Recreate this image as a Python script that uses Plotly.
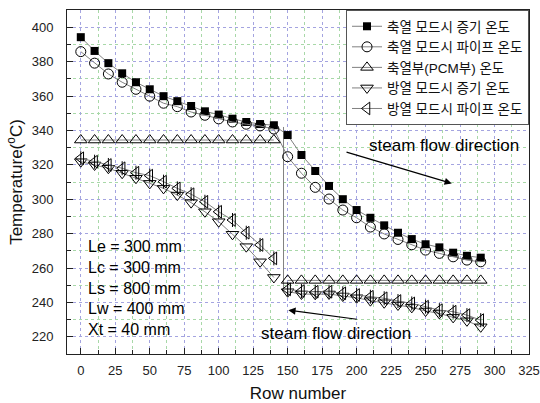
import plotly.graph_objects as go

# ---- data ----
row_number = [0, 10, 20, 30, 40, 50, 60, 70, 80, 90, 100, 110, 120, 130, 140,
              150, 160, 170, 180, 190, 200, 210, 220, 230, 240, 250, 260, 270, 280, 290]

charge_steam = [394.2, 386.2, 379.1, 373.2, 368.0, 363.9, 359.9, 357.0, 354.2, 351.1,
                349.2, 346.8, 344.9, 343.7, 343.0,
                337.3, 325.7, 316.4, 307.7, 300.0, 293.7, 289.2, 284.8, 280.5, 276.8,
                273.8, 272.0, 268.9, 267.1, 266.0]

charge_pipe = [385.8, 379.1, 372.8, 368.0, 363.9, 359.9, 355.8, 353.8, 350.7, 348.8,
               346.7, 344.9, 343.6, 342.6, 340.8,
               324.7, 315.1, 306.9, 300.1, 293.7, 289.2, 283.8, 279.8, 276.6, 273.5,
               270.4, 268.5, 266.5, 264.6, 263.6]

pcm_temp = [334.4] * 15 + [252.8] * 15

discharge_steam = [321.8, 319.9, 318.0, 315.1, 312.2, 309.2, 306.3, 302.4, 298.0, 292.7,
                   286.9, 279.6, 272.4, 263.6, 254.5,
                   246.2, 244.9, 244.7, 244.9, 243.7, 242.7, 241.0, 239.8, 238.5, 237.1,
                   235.0, 233.6, 231.3, 229.3, 225.8]

discharge_pipe = [323.8, 321.8, 319.9, 318.0, 315.4, 313.7, 310.2, 306.3, 302.9, 298.5,
                  292.7, 287.9, 280.5, 273.4, 265.6,
                  247.6, 246.6, 246.2, 246.2, 245.3, 244.3, 243.3, 242.4, 240.8, 239.4,
                  237.5, 235.5, 234.6, 232.6, 229.7]

# the two sections (rows 0-140 and 150-290) of the split-drawn series
section_a = slice(0, 15)
section_b = slice(15, 30)

divider_x = [147, 147]
divider_y = [342, 248]

series_names = ["축열 모드시 증기 온도", "축열 모드시 파이프 온도", "축열부(PCM부) 온도",
                "방열 모드시 증기 온도", "방열 모드시 파이프 온도"]

param_lines = ["Le = 300 mm", "Lc = 300 mm", "Ls = 800 mm", "Lw = 400 mm", "Xt = 40 mm"]

x_ticks = list(range(0, 326, 25))
y_ticks = list(range(220, 401, 20))

LINE = dict(color="#808080", width=1)
FONT = "Liberation Sans, Arial, sans-serif"

fig = go.Figure()

fig.add_trace(go.Scatter(x=divider_x, y=divider_y, mode="lines", line=LINE,
                         showlegend=False, hoverinfo="skip"))

fig.add_trace(go.Scatter(x=row_number, y=charge_steam, mode="lines+markers", name=series_names[0],
                         line=LINE, marker=dict(symbol="square", size=8, color="black")))
fig.add_trace(go.Scatter(x=row_number, y=charge_pipe, mode="lines+markers", name=series_names[1],
                         line=LINE, marker=dict(symbol="circle-open", size=10, color="black",
                                                line=dict(width=1))))


def split_series(y, name, symbol, group):
    for k, sec in enumerate([section_a, section_b]):
        fig.add_trace(go.Scatter(x=row_number[sec], y=y[sec], mode="lines+markers", name=name,
                                 legendgroup=group, showlegend=(k == 0),
                                 line=LINE, marker=dict(symbol=symbol, size=11, color="black",
                                                        line=dict(width=1))))


split_series(pcm_temp, series_names[2], "triangle-up-open", "pcm")
split_series(discharge_steam, series_names[3], "triangle-down-open", "ds")
split_series(discharge_pipe, series_names[4], "triangle-left-open", "dp")
fig.add_trace(go.Scatter(x=row_number, y=discharge_pipe, mode="markers", legendgroup="dp",
                         showlegend=False, hoverinfo="skip",
                         marker=dict(symbol="line-ns-open", size=10, color="black",
                                     line=dict(width=1))))

# annotations
fig.add_annotation(x=263, y=331.5, text="steam flow direction", showarrow=False,
                   font=dict(size=17, color="black", family=FONT))
fig.add_annotation(x=269, y=309.2, ax=191.6, ay=327.6, xref="x", yref="y", axref="x", ayref="y",
                   text="", showarrow=True, arrowhead=2, arrowsize=1.2, arrowwidth=1.2,
                   arrowcolor="black")
fig.add_annotation(x=185, y=222, text="steam flow direction", showarrow=False,
                   font=dict(size=17, color="black", family=FONT))
fig.add_annotation(x=150.5, y=235.5, ax=201.2, ay=230.1, xref="x", yref="y", axref="x", ayref="y",
                   text="", showarrow=True, arrowhead=2, arrowsize=1.2, arrowwidth=1.2,
                   arrowcolor="black")
fig.add_annotation(x=3.5, y=278.5, xanchor="left", yanchor="top", align="left",
                   text="<br>".join(param_lines), showarrow=False,
                   font=dict(size=16, color="black", family=FONT))

grid_major = "#a4a4e0"
grid_minor = "#a8d8a8"

fig.update_xaxes(range=[-10, 325], tickvals=x_ticks, ticks="inside", ticklen=6, tickcolor="#222",
                 showline=True, linecolor="#222", linewidth=1, mirror=True, automargin=False,
                 showgrid=True, gridcolor=grid_major, griddash="dot", gridwidth=1,
                 minor=dict(dtick=12.5, tick0=0, ticks="inside", ticklen=4, tickcolor="#222",
                            showgrid=True, gridcolor=grid_minor, griddash="dot", gridwidth=1),
                 zeroline=False, tickfont=dict(size=13, color="#222", family=FONT),
                 ticklabelstandoff=4,
                 title=dict(text="Row number", font=dict(size=17, color="#111", family=FONT),
                            standoff=14))
fig.update_yaxes(range=[210, 410], tickvals=y_ticks, ticks="inside", ticklen=6, tickcolor="#222",
                 showline=True, linecolor="#222", linewidth=1, mirror=True, automargin=False,
                 showgrid=True, gridcolor=grid_major, griddash="dot", gridwidth=1,
                 minor=dict(dtick=10, tick0=0, ticks="inside", ticklen=4, tickcolor="#222",
                            showgrid=True, gridcolor=grid_minor, griddash="dot", gridwidth=1),
                 zeroline=False, tickfont=dict(size=13, color="#222", family=FONT),
                 ticklabelstandoff=10,
                 title=dict(text="Temperature(<sup>o</sup>C)",
                            font=dict(size=17, color="#111", family=FONT), standoff=4))

fig.update_layout(
    width=540, height=403,
    margin=dict(l=67, r=11, t=10, b=49),
    plot_bgcolor="white", paper_bgcolor="white",
    font=dict(family=FONT, color="black"),
    legend=dict(x=1, y=1, xanchor="right", yanchor="top",
                bgcolor="white", bordercolor="#555", borderwidth=1,
                font=dict(size=13.5, family="Liberation Sans, Noto Sans CJK KR", color="#111"),
                itemwidth=30, tracegroupgap=0),
)

fig.write_html("out.html")
